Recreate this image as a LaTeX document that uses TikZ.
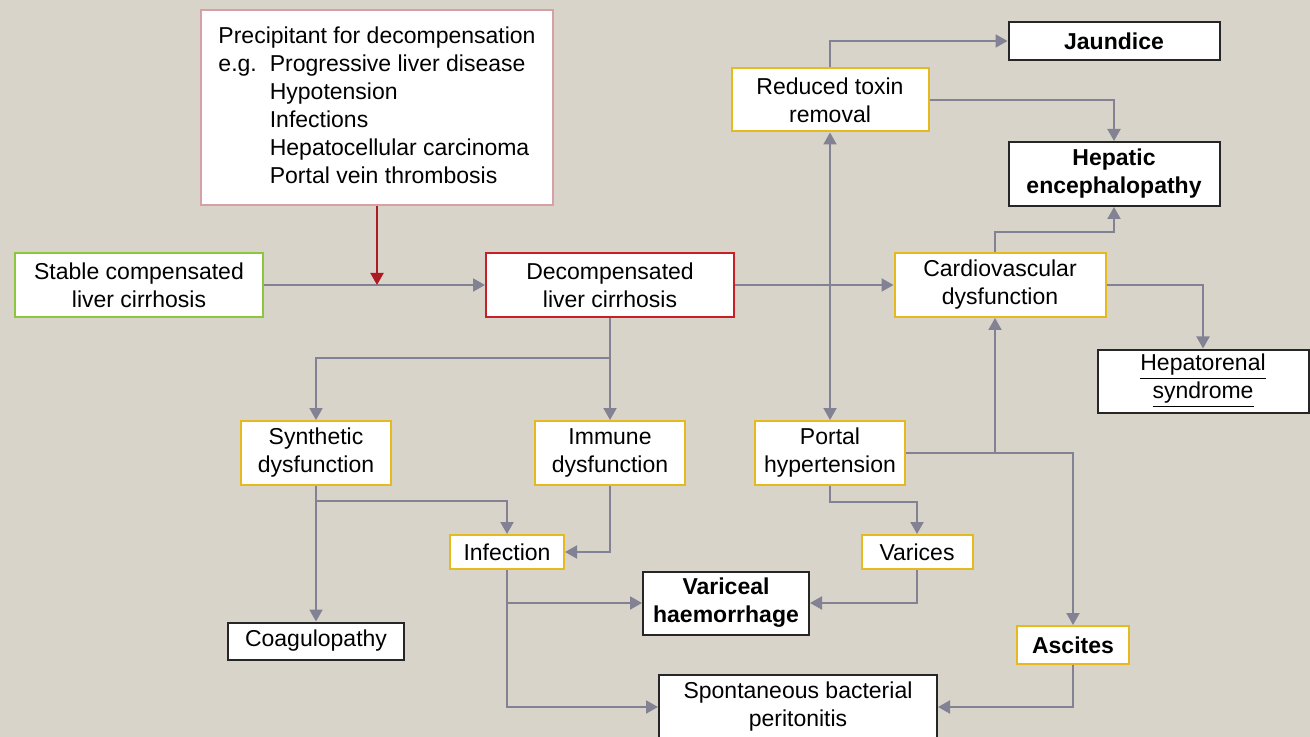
\documentclass[tikz,border=0pt]{standalone}
\usepackage{fontspec}
\setmainfont{Liberation Sans}
\usetikzlibrary{arrows.meta}
\definecolor{bg}{RGB}{216,212,201}
\definecolor{linegray}{RGB}{130,130,148}
\definecolor{boxyellow}{RGB}{230,185,30}
\definecolor{boxred}{RGB}{200,30,40}
\definecolor{boxgreen}{RGB}{140,198,63}
\definecolor{boxpink}{RGB}{215,160,165}
\definecolor{arrred}{RGB}{175,25,35}

\tikzset{
block/.style  = {draw, fill=white, rectangle, line width=1pt, inner sep=0pt, align=center, font=\fontsize{11.5}{14}\selectfont},
yblock/.style = {block, draw=boxyellow},
kblock/.style = {block, draw=black!85},
tip/.style    = {Triangle[length=6pt,width=6.5pt]},
link/.style   = {draw=linegray, line width=1pt, -{Triangle[length=6pt,width=6.5pt]}},}

\begin{document}
\begin{tikzpicture}[x=0.5pt, y=-0.5pt]
    \useasboundingbox (0,0) rectangle (1310,737);
    \fill[bg] (0,0) rectangle (1310,737);

    \node[block, draw=boxpink, minimum width=176pt, minimum height=97.5pt] (precip) at (377,107.5)
        {\begin{tabular}{@{}l@{\hspace{6.5pt}}l@{}}
         \multicolumn{2}{@{}l@{}}{Precipitant for decompensation}\\
         e.g. & Progressive liver disease\\
              & Hypotension\\
              & Infections\\
              & Hepatocellular carcinoma\\
              & Portal vein thrombosis
         \end{tabular}};
    \node[block, draw=boxgreen, minimum width=124pt, minimum height=32pt] (stable) at (139,285) {Stable compensated\\liver cirrhosis};
    \node[block, draw=boxred, minimum width=124pt, minimum height=32pt] (decomp) at (610,285) {Decompensated\\liver cirrhosis};
    \node[yblock, minimum width=105.5pt, minimum height=32pt] (cardio) at (1000,285) {Cardiovascular\\dysfunction};
    \node[yblock, minimum width=98.5pt, minimum height=31.5pt] (reduced) at (830,100) {Reduced toxin\\removal};
    \node[kblock, minimum width=105.5pt, minimum height=19pt] (jaundice) at (1114,41) {\textbf{Jaundice}};
    \node[kblock, minimum width=105.5pt, minimum height=32pt] (hepatic) at (1114,174) {\textbf{Hepatic}\\\textbf{encephalopathy}};
    \node[kblock, minimum width=105.5pt, minimum height=31.5pt] (hepatorenal) at (1203,381) {\underline{Hepatorenal}\\\underline{syndrome}};
    \node[yblock, minimum width=75pt, minimum height=32pt] (synth) at (316,453) {Synthetic\\dysfunction};
    \node[yblock, minimum width=75pt, minimum height=32pt] (immune) at (610,453) {Immune\\dysfunction};
    \node[yblock, minimum width=75pt, minimum height=32pt] (portal) at (830,453) {Portal\\hypertension};
    \node[yblock, minimum width=57pt, minimum height=17pt] (infect) at (507,552) {Infection};
    \node[yblock, minimum width=55.5pt, minimum height=17pt] (varices) at (917,552) {Varices};
    \node[kblock, minimum width=83pt, minimum height=31.5pt] (varhaem) at (726,603) {\textbf{Variceal}\\\textbf{haemorrhage}};
    \node[kblock, minimum width=88pt, minimum height=18.5pt] (coag) at (316,641) {Coagulopathy};
    \node[yblock, minimum width=56pt, minimum height=19pt] (ascites) at (1073,645) {\textbf{Ascites}};
    \node[kblock, minimum width=139pt, minimum height=32pt] (sbp) at (798,707) {Spontaneous bacterial\\peritonitis};

    \coordinate (pjoin) at (377,285);
    \coordinate (split) at (610,358);
    \coordinate (sjoin) at (316,501);
    \coordinate (vjoin) at (830,502);
    \coordinate (cjoin) at (995,453);
    \coordinate (hjoin) at (995,232);

    \draw[link] (stable) -- (decomp);
    \draw[link, draw=arrred] (precip) -- (pjoin);
    \draw[link] (decomp) -- (cardio);
    \draw[link] (decomp) -- (immune);
    \draw[link] (split) -| (synth);
    \draw[link] (synth) -- (coag);
    \draw[link] (sjoin) -| (infect);
    \draw[link] (immune) |- (infect);
    \draw[link] (infect) |- (varhaem);
    \draw[link] (infect) |- (sbp);
    \draw[link] (portal) -- (vjoin) -| (varices);
    \draw[link] (varices) |- (varhaem);
    \draw[link] (portal) -| (ascites);
    \draw[link] (ascites) |- (sbp);
    \draw[link] (cjoin) -- (cjoin |- cardio.south);
    \draw[link, {Triangle[length=6pt,width=6.5pt]}-{Triangle[length=6pt,width=6.5pt]}] (portal) -- (reduced);
    \draw[link] (reduced) |- (jaundice);
    \draw[link] (reduced) -| (hepatic);
    \draw[link] (cardio.north -| hjoin) -- (hjoin) -| (hepatic);
    \draw[link] (cardio) -| (hepatorenal);
\end{tikzpicture}
\end{document}
